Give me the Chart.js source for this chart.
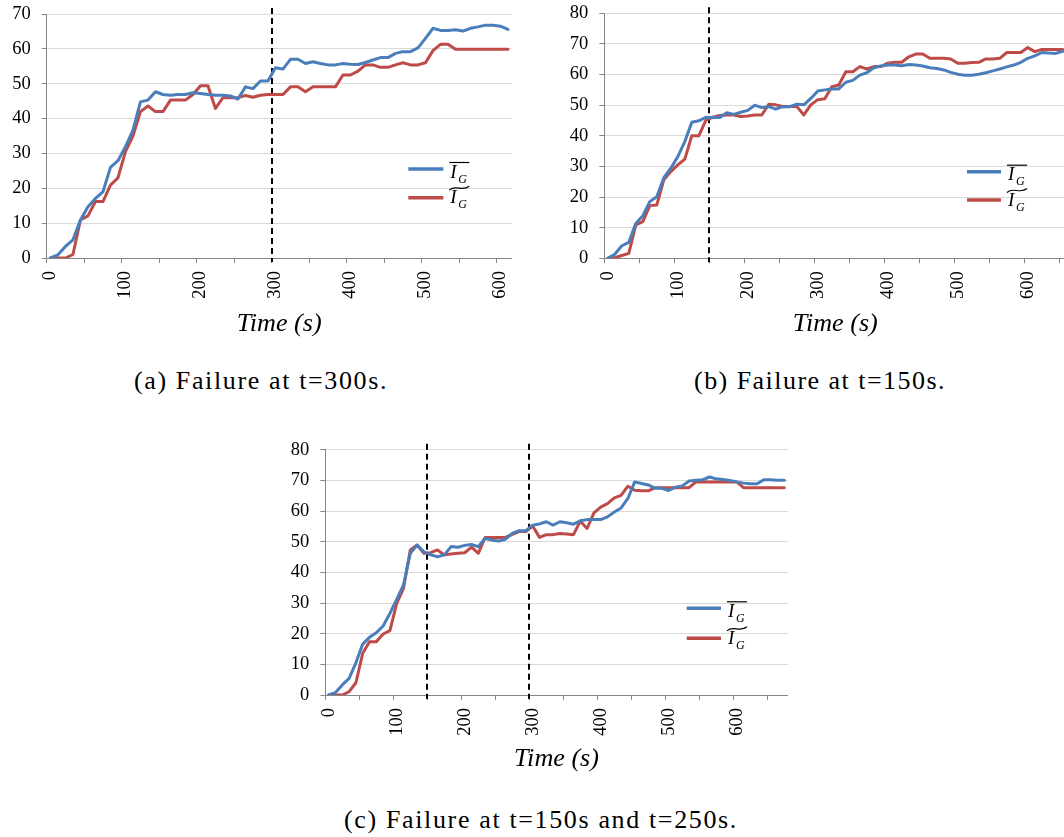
<!DOCTYPE html>
<html>
<head>
<meta charset="utf-8">
<script src="https://cdn.jsdelivr.net/npm/chart.js@4.4.1/dist/chart.umd.min.js"></script>
<style>
  html, body { margin: 0; padding: 0; background: #fff; overflow: hidden; }
  #fig { position: relative; width: 1064px; height: 837px; overflow: hidden; background: #fff; }
  #fig canvas { position: absolute; }
  .cap { position: absolute; line-height: 30px; white-space: nowrap; color: #000; }
</style>
</head>
<body>
<div id="fig">
  <canvas id="chartA"></canvas>
  <canvas id="chartB"></canvas>
  <canvas id="chartC"></canvas>
  <div class="cap" id="capA">(a) Failure at t=300s.</div>
  <div class="cap" id="capB">(b) Failure at t=150s.</div>
  <div class="cap" id="capC">(c) Failure at t=150s and t=250s.</div>
</div>
<script>
// ---------------- data ----------------
const timesA = [0,10,20,30,40,50,60,70,80,90,100,110,120,130,140,150,160,170,180,190,200,210,220,230,240,250,260,270,280,290,300,310,320,330,340,350,360,370,380,390,400,410,420,430,440,450,460,470,480,490,500,510,520,530,540,550,560,570,580,590,600,610];
const meanA  = [0,0.9,3.3,5.2,10.9,14.7,17.1,19.0,26.0,27.9,31.9,36.7,44.8,45.3,47.7,46.9,46.7,46.9,46.9,47.4,47.2,46.9,46.7,46.7,46.5,45.6,49.1,48.6,50.8,50.8,54.6,54.2,57.0,57.0,55.8,56.3,55.8,55.4,55.4,55.8,55.6,55.5,56.1,56.8,57.5,57.5,58.7,59.2,59.2,60.3,63.0,65.9,65.3,65.3,65.5,65.1,65.9,66.3,66.8,66.8,66.5,65.6];
const tildeA = [0,0,0,1.0,10.9,12.1,16.2,16.2,20.9,23.0,30.5,35.0,42.0,43.6,42.0,42.0,45.3,45.3,45.3,46.9,49.4,49.4,42.9,46.0,46.0,46.0,46.6,46.1,46.7,46.9,46.9,46.9,49.1,49.1,47.7,49.1,49.1,49.1,49.1,52.5,52.5,53.6,55.4,55.4,54.7,54.7,55.4,56.0,55.4,55.4,56.0,59.5,61.3,61.3,59.9,59.9,59.9,59.9,59.9,59.9,59.9,59.9];

const timesB = [0,10,20,30,40,50,60,70,80,90,100,110,120,130,140,150,160,170,180,190,200,210,220,230,240,250,260,270,280,290,300,310,320,330,340,350,360,370,380,390,400,410,420,430,440,450,460,470,480,490,500,510,520,530,540,550,560,570,580,590,600,610,620,630,640,650];
const meanB  = [0,1.3,4.1,5.2,11.4,13.9,18.5,20.1,26.3,29.4,33.2,38.1,44.4,44.9,46.0,46.0,46.0,47.5,47.0,47.7,48.3,50.0,49.2,49.5,48.7,49.5,49.5,50.3,50.1,52.2,54.6,55.0,55.3,55.3,57.5,58.1,59.8,60.6,62.2,62.8,63.1,63.1,62.9,63.3,63.1,62.8,62.2,62.0,61.5,60.7,60.1,59.8,59.8,60.1,60.6,61.2,61.8,62.5,63.1,64.0,65.3,66.1,67.2,67.0,66.9,67.6];
const tildeB = [0,0.2,0.9,1.6,10.9,12.0,17.2,17.4,25.6,28.3,30.5,32.4,40.0,40.0,45.0,46.1,46.6,46.8,46.8,46.3,46.5,46.8,46.8,50.3,50.1,49.6,49.6,49.6,46.8,50.1,51.8,52.1,56.0,56.6,60.9,60.9,62.6,61.8,62.6,62.6,63.7,64.0,64.0,65.8,66.7,66.7,65.3,65.3,65.3,65.1,63.7,63.7,63.9,64.0,65.1,65.1,65.3,67.2,67.2,67.2,68.8,67.5,68.2,68.2,68.2,68.2];

const timesC = [0,10,20,30,40,50,60,70,80,90,100,110,120,130,140,150,160,170,180,190,200,210,220,230,240,250,260,270,280,290,300,310,320,330,340,350,360,370,380,390,400,410,420,430,440,450,460,470,480,490,500,510,520,530,540,550,560,570,580,590,600,610,620,630,640,650,660,670];
const meanC  = [0,0.8,3.3,5.4,10.5,16.6,18.8,20.3,22.5,26.6,31.2,35.9,46.2,48.9,46.7,45.7,45.1,45.7,48.4,48.2,48.8,49.1,48.4,51.1,50.5,50.2,50.8,52.7,53.6,53.6,55.4,55.8,56.5,55.4,56.5,56.2,55.7,56.8,57.2,57.2,57.2,58.1,59.7,61.0,64.1,69.5,69.0,68.5,67.4,67.4,66.7,67.8,68.2,69.8,70.0,70.2,71.1,70.5,70.3,70.0,69.5,69.1,68.9,68.9,70.2,70.2,70.0,70.0];
const tildeC = [0,0,0,1.1,4.0,13.6,17.4,17.4,19.9,21.0,29.9,34.8,47.3,48.9,46.2,46.4,47.3,45.7,46.0,46.2,46.4,48.2,46.2,51.4,51.4,51.4,51.4,52.4,53.3,53.3,55.1,51.4,52.3,52.3,52.7,52.5,52.3,56.7,54.3,59.4,61.3,62.4,64.3,65.1,68.1,66.8,66.6,66.6,67.6,67.6,67.6,67.6,67.6,67.6,69.5,69.5,69.5,69.5,69.5,69.5,69.5,67.6,67.6,67.6,67.6,67.6,67.6,67.6];

const failA = [300];
const failB = [150];
const failC = [150, 300];
const yMaxA = 70, yMaxB = 80, yMaxC = 80;
const xTitle = 'Time (s)';

// ---------------- fonts ----------------
const mctx = document.createElement('canvas').getContext('2d');
function hasFont(name) {
  const s = 'Failure at 0123456789 Time (s)';
  for (const fb of ['monospace', 'sans-serif', 'serif']) {
    mctx.font = '40px ' + fb; const w0 = mctx.measureText(s).width;
    mctx.font = '40px "' + name + '", ' + fb; const w1 = mctx.measureText(s).width;
    if (Math.abs(w0 - w1) > 0.01) return true;
  }
  return false;
}
const serifCandidates = ['Liberation Serif', 'Tinos', 'Times New Roman', 'Nimbus Roman', 'FreeSerif', 'DejaVu Serif', 'Noto Serif'];
let SERIF_NAME = null;
for (const n of serifCandidates) { if (hasFont(n)) { SERIF_NAME = n; break; } }
const SERIF = SERIF_NAME ? '"' + SERIF_NAME + '", serif' : 'serif';
function widthAt(style, size, text) {
  mctx.font = style + ' ' + size + 'px ' + SERIF;
  return mctx.measureText(text).width;
}
function fitSize(style, text, target) { return 100 * target / widthAt(style, 100, text); }

const tickSize = Math.min(19, Math.max(16, fitSize('', '100', 27.75)));
const titleSize = Math.min(27, Math.max(18, fitSize('italic', xTitle, 85)));
const BLUE = '#4A7EBB', RED = '#BE4B48', AXIS = '#868686', GRID = '#d9d9d9', TXT = '#000000';
const TICKFONT = { family: SERIF, size: tickSize };

// captions
function placeCaption(id, cx, cy, targetW) {
  const el = document.getElementById(id);
  const txt = el.textContent;
  const size = Math.min(26, fitSize('', txt, targetW));
  const natural = widthAt('', size, txt);
  const ls = (targetW - natural) / txt.length;
  el.style.fontFamily = SERIF;
  el.style.fontSize = size + 'px';
  el.style.letterSpacing = ls + 'px';
  el.style.left = (cx - targetW / 2) + 'px';
  el.style.top = (cy - 15) + 'px';
}
placeCaption('capA', 261, 381, 254);
placeCaption('capB', 820, 381, 252);
placeCaption('capC', 541, 820, 394);

// dashed failure lines
const failLines = {
  id: 'failLines',
  beforeDatasetsDraw(chart, args, opts) {
    const x = chart.scales.x, y = chart.scales.y, ctx = chart.ctx;
    ctx.save();
    ctx.strokeStyle = '#000'; ctx.lineWidth = 2; ctx.setLineDash([6, 4]);
    for (const t of opts.times) {
      const idx = chart.data.labels.indexOf(t);
      const px = Math.round(x.getPixelForValue(idx - 0.5));
      ctx.beginPath(); ctx.moveTo(px, y.top - 6); ctx.lineTo(px, y.bottom + 4); ctx.stroke();
    }
    ctx.restore();
  }
};

// legend with math symbols
const mathLegend = {
  id: 'mathLegend',
  afterDatasetsDraw(chart, args, o) {
    const ctx = chart.ctx;
    chart.data.datasets.forEach((ds, k) => {
      const yy = o.y + k * o.gap;
      ctx.save();
      ctx.strokeStyle = ds.borderColor; ctx.lineWidth = 3.5; ctx.lineCap = 'butt';
      ctx.beginPath(); ctx.moveTo(o.x, yy); ctx.lineTo(o.x + o.len, yy); ctx.stroke();
      const tx = o.x + o.len + 6;
      const base = yy + (k === 0 ? 8.5 : 5.5);
      ctx.fillStyle = '#000';
      ctx.textBaseline = 'alphabetic';
      ctx.font = 'italic 19px ' + SERIF;
      ctx.fillText('I', tx + 1, base);
      ctx.font = 'italic 12px ' + SERIF;
      ctx.fillText('G', tx + 9, base + 5);
      ctx.strokeStyle = '#000'; ctx.lineWidth = 1.2;
      ctx.beginPath();
      if (k === 0) {
        const oy = yy - 6.5;
        ctx.moveTo(tx, oy); ctx.lineTo(tx + 20, oy);
      } else {
        const cy = yy - 9.5;
        ctx.moveTo(tx, cy + 2);
        ctx.bezierCurveTo(tx + 6, cy - 4, tx + 13, cy + 4, tx + 20, cy - 2);
      }
      ctx.stroke();
      ctx.restore();
    });
  }
};

function build(id, g, times, s1, s2, yMax, fails, leg) {
  const c = document.getElementById(id);
  c.style.left = g.left + 'px'; c.style.top = g.top + 'px';
  c.width = g.w; c.height = g.h;
  return new Chart(c, {
    type: 'line',
    data: {
      labels: times,
      datasets: [
        { label: 'mean', data: s1, borderColor: BLUE, borderWidth: 3, pointRadius: 0, tension: 0,
          borderJoinStyle: 'round', borderCapStyle: 'round', fill: false },
        { label: 'tilde', data: s2, borderColor: RED, borderWidth: 3, pointRadius: 0, tension: 0,
          borderJoinStyle: 'round', borderCapStyle: 'round', fill: false }
      ]
    },
    options: {
      responsive: false, animation: false, devicePixelRatio: 1, events: [],
      layout: { autoPadding: false, padding: { left: 0, top: g.aT - g.top, right: g.left + g.w - g.aR, bottom: 0 } },
      plugins: { legend: { display: false }, tooltip: { enabled: false }, failLines: { times: fails }, mathLegend: leg },
      scales: {
        x: {
          type: 'category', offset: true,
          grid: { display: true, drawOnChartArea: false, drawTicks: true, tickLength: 5, offset: true, tickWidth: 1,
                  tickColor: (ctx) => (ctx.index % 5 === 0 ? AXIS : 'rgba(0,0,0,0)') },
          border: { display: true, color: AXIS, width: 1 },
          ticks: { autoSkip: false, minRotation: 90, maxRotation: 90, padding: 8, color: TXT, font: TICKFONT,
                   callback: function (v, i) { return i % 10 === 0 ? String(this.getLabelForValue(v)) : ''; } },
          title: { display: true, text: xTitle, color: TXT,
                   font: { family: SERIF, style: 'italic', size: titleSize },
                   padding: { top: 0, bottom: g.tp } },
          afterFit: (s) => { s.height = g.top + g.h - g.aB; s.paddingLeft = 0; s.paddingRight = 0; }
        },
        y: {
          min: 0, max: yMax,
          ticks: { stepSize: 10, padding: 11, color: TXT, font: TICKFONT },
          grid: { color: (ctx) => (ctx.index === 0 ? AXIS : GRID), tickColor: AXIS, tickLength: 5, drawTicks: true },
          border: { display: true, color: AXIS, width: 1 },
          afterFit: (s) => { s.width = g.aL - g.left; s.paddingTop = 0; s.paddingBottom = 0; }
        }
      }
    },
    plugins: [failLines, mathLegend]
  });
}

build('chartA', { left: 0, top: 0, w: 530, h: 350, aL: 46.7, aT: 14, aR: 511.7, aB: 258, tp: 10.6 },
      timesA, meanA, tildeA, yMaxA, failA, { x: 408.3, y: 169, gap: 28.7, len: 35 });
build('chartB', { left: 560, top: 0, w: 510, h: 350, aL: 604.3, aT: 13.3, aR: 1066.3, aB: 258.3, tp: 10.6 },
      timesB, meanB, tildeB, yMaxB, failB, { x: 967 - 560, y: 171.7, gap: 28.3, len: 34 });
build('chartC', { left: 270, top: 436, w: 530, h: 350, aL: 325.3, aT: 449.7, aR: 787.7, aB: 695, tp: 11.6 },
      timesC, meanC, tildeC, yMaxC, failC, { x: 686.7 - 270, y: 608.3 - 436, gap: 30, len: 34.3 });
</script>
</body>
</html>
